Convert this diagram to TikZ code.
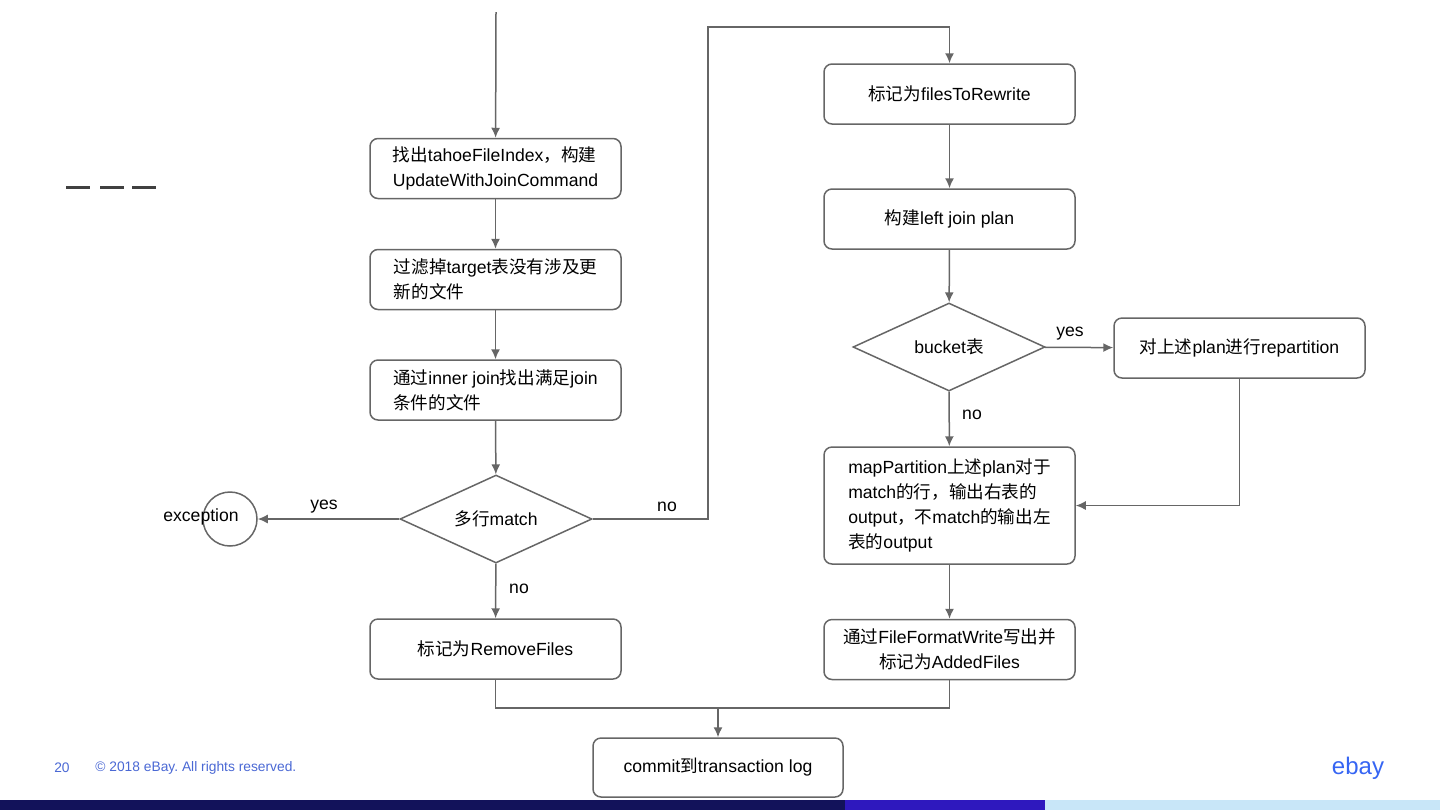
\documentclass[tikz,border=0pt]{standalone}
\usepackage{fontspec}
\setmainfont{Liberation Sans}
\newfontfamily\cjk{Noto Sans CJK SC}
\usetikzlibrary{arrows.meta}
\usetikzlibrary{shapes.geometric}
\newcommand{\zh}[1]{{\cjk #1}}
\frenchspacing
\definecolor{linegrey}{HTML}{666666}
\definecolor{footblue}{HTML}{4A68D4}
\definecolor{logoblue}{HTML}{3665F3}
\definecolor{barnavy}{HTML}{12125A}
\definecolor{barviolet}{HTML}{2E18BE}
\definecolor{barsky}{HTML}{C8E6F8}

\begin{document}
\begin{tikzpicture}[x=0.5pt,y=-0.5pt]
        \tikzset{box/.style = {shape=rectangle,draw=linegrey,line width=0.75pt,rounded corners=4pt,minimum width=125.5pt,minimum height=30pt,align=center,font=\fontsize{8.8}{12.5}\selectfont}}
        \tikzset{decision/.style = {shape=diamond,draw=linegrey,line width=0.75pt,minimum width=96pt,minimum height=44pt,inner sep=0pt,aspect=2.2,font=\fontsize{8.8}{12.5}\selectfont}}
        \tikzset{edge/.style = {draw=linegrey,line width=0.75pt,-{Latex[length=5pt,width=4.5pt]}}}
        \tikzset{link/.style = {draw=linegrey,line width=0.75pt}}
        \tikzset{lbl/.style = {font=\fontsize{8.8}{11}\selectfont}}
        \useasboundingbox (0,0) rectangle (1440,810);
        % left column
        \coordinate (start) at (496,12);
        \node[box,align=left] (find) at (495.5,168.5) {\zh{找出}tahoeFileIndex\zh{，构建}\\UpdateWithJoinCommand};
        \node[box,align=left] (filter) at (495.5,279.5) {\zh{过滤掉}target\zh{表没有涉及更}\\\zh{新的文件}};
        \node[box,align=left] (inner) at (495.5,390) {\zh{通过}inner join\zh{找出满足}join\\\zh{条件的文件}};
        \node[decision] (match) at (496,519) {\zh{多行}match};
        \node[shape=circle,draw=linegrey,line width=0.75pt,minimum size=27pt,inner sep=0pt] (exc) at (230,519) {};
        \node[lbl] (exctext) at (201,517) {exception};
        \node[box] (remove) at (495.5,649) {\zh{标记为}RemoveFiles};
        % right column
        \coordinate (up) at (708,27);
        \node[box] (files) at (949.5,94) {\zh{标记为}filesToRewrite};
        \node[box] (plan) at (949.5,219) {\zh{构建}left join plan};
        \node[decision] (bucket) at (949,347) {bucket\zh{表}};
        \node[box] (repart) at (1239.5,348) {\zh{对上述}plan\zh{进行}repartition};
        \node[box,align=left,minimum height=58.5pt] (mappart) at (949.5,505.5) {mapPartition\zh{上述}plan\zh{对于}\\match\zh{的行，输出右表的}\\output\zh{，不}match\zh{的输出左}\\\zh{表的}output};
        \node[box] (write) at (949.5,649.5) {\zh{通过}FileFormatWrite\zh{写出并}\\\zh{标记为}AddedFiles};
        \coordinate (join) at (718,708);
        \node[box,minimum width=125pt,minimum height=29.5pt] (commit) at (718,767.5) {commit\zh{到}transaction log};
        % connectors
        \draw[edge] (start) -- (find);
        \draw[edge] (find) -- (filter);
        \draw[edge] (filter) -- (inner);
        \draw[edge] (inner) -- (match);
        \draw[edge] (match) -- (exc);
        \node[lbl] (yes1) at (324,507) {yes};
        \draw[edge] (match) -- (remove);
        \node[lbl] (no1) at (519,589) {no};
        \draw[edge] (match.east) -| (up) -| (files.north);
        \node[lbl] (no2) at (667,507) {no};
        \draw[edge] (files) -- (plan);
        \draw[edge] (plan) -- (bucket);
        \draw[edge] (bucket) -- (repart);
        \node[lbl] (yes2) at (1070,334) {yes};
        \draw[edge] (bucket) -- (mappart);
        \node[lbl] (no3) at (972,415) {no};
        \draw[edge] (repart.south) |- (mappart.east);
        \draw[edge] (mappart) -- (write);
        \draw[link] (remove.south) |- (join) -| (write.south);
        \draw[edge] (join) -- (commit);
        % slide decoration
        \foreach \x in {66,100,132}
            \draw[color=black!75,line width=1.5pt] (\x,187) -- (\x+24,187);
        \node[text=footblue,font=\fontsize{6.9}{8}\selectfont] (page) at (62,768) {20};
        \node[text=footblue,font=\fontsize{6.9}{8}\selectfont,anchor=west,inner sep=0pt] (copy) at (95,768) {© 2018 eBay. All rights reserved.};
        \node[text=logoblue,font=\fontsize{12}{14}\selectfont] (logo) at (1358,768) {ebay};
        \fill[barnavy] (0,800) rectangle (845,810);
        \fill[barviolet] (845,800) rectangle (1045,810);
        \fill[barsky] (1045,800) rectangle (1440,810);
\end{tikzpicture}
\end{document}
